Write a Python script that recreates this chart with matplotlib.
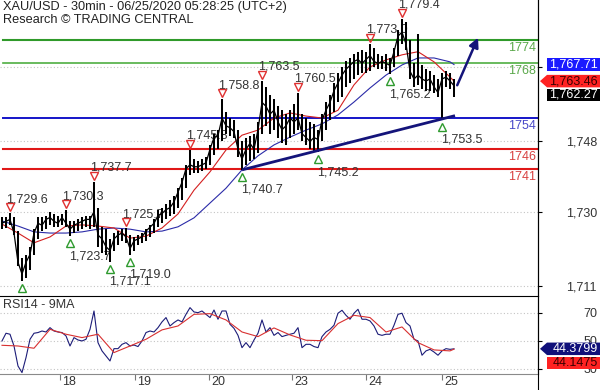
import matplotlib
matplotlib.use('Agg')
import matplotlib.pyplot as plt
import matplotlib.transforms as mtransforms
from matplotlib.patches import Polygon
from matplotlib.lines import Line2D
import numpy as np

plt.rcParams['font.family'] = ['Liberation Sans', 'DejaVu Sans']

# ---------------- data ----------------
title = "XAU/USD - 30min - 06/25/2020 05:28:25 (UTC+2)"
subtitle = "Research \u00a9 TRADING CENTRAL"

high = [
    1728.5, 1728.6, 1729.6, 1728.5, 1725.0, 1718.0, 1719.0, 1721.0, 1725.5, 1728.5,
    1728.5, 1729.0, 1730.0, 1729.5, 1729.0, 1729.5, 1730.3, 1727.5, 1727.5, 1728.0,
    1728.5, 1729.0, 1729.0, 1737.7, 1731.0, 1726.0, 1725.5, 1723.0, 1724.5, 1725.0,
    1725.5, 1725.7, 1724.0, 1723.5, 1724.0, 1724.5, 1725.5, 1726.5, 1728.0, 1730.5,
    1731.0, 1732.0, 1733.0, 1734.0, 1736.0, 1738.5, 1742.0, 1745.8, 1743.5, 1743.0,
    1743.5, 1744.0, 1747.0, 1750.0, 1751.0, 1758.8, 1755.5, 1754.0, 1753.5, 1751.0,
    1748.0, 1749.0, 1749.5, 1750.0, 1753.0, 1763.5, 1762.0, 1760.0, 1759.0, 1757.0,
    1756.0, 1755.0, 1756.0, 1757.5, 1760.5, 1755.0, 1754.0, 1753.0, 1752.5, 1751.0,
    1755.0, 1758.0, 1760.0, 1763.0, 1765.5, 1767.0, 1768.5, 1769.5, 1770.5, 1771.0,
    1771.5, 1771.0, 1773.0, 1772.0, 1770.5, 1770.0, 1770.5, 1769.5, 1772.0, 1776.5,
    1779.4, 1778.5, 1774.0, 1768.0, 1775.5, 1767.5, 1766.5, 1766.0, 1765.0, 1764.0,
    1765.5, 1766.0, 1765.5, 1764.0]
low = [
    1725.5, 1725.8, 1726.5, 1724.0, 1716.0, 1712.2, 1713.0, 1715.0, 1719.0, 1723.0,
    1725.0, 1725.5, 1726.5, 1726.0, 1726.0, 1726.5, 1726.0, 1723.7, 1724.5, 1725.0,
    1725.5, 1726.0, 1725.5, 1726.0, 1721.0, 1719.5, 1719.0, 1717.1, 1720.0, 1721.5,
    1722.5, 1722.0, 1719.0, 1720.0, 1721.5, 1722.0, 1722.5, 1723.5, 1724.5, 1726.0,
    1727.0, 1728.0, 1729.0, 1729.5, 1731.0, 1733.0, 1736.0, 1739.5, 1740.0, 1740.0,
    1740.5, 1741.0, 1742.0, 1744.5, 1746.0, 1748.0, 1750.0, 1749.5, 1749.0, 1744.0,
    1740.7, 1742.0, 1743.0, 1743.5, 1745.0, 1750.0, 1752.0, 1750.0, 1751.0, 1749.0,
    1747.5, 1747.0, 1749.0, 1750.0, 1751.0, 1748.0, 1747.0, 1746.0, 1745.5, 1745.2,
    1748.0, 1751.0, 1753.5, 1755.5, 1758.0, 1759.5, 1762.0, 1763.0, 1764.0, 1765.0,
    1765.5, 1765.5, 1766.0, 1767.0, 1766.5, 1766.5, 1766.0, 1765.2, 1767.0, 1770.0,
    1773.0, 1771.5, 1764.0, 1762.0, 1762.5, 1761.5, 1761.0, 1761.0, 1760.5, 1759.5,
    1753.5, 1762.0, 1761.5, 1759.5]
close = [
    1727.0, 1727.5, 1728.0, 1724.5, 1717.0, 1714.0, 1717.0, 1719.0, 1724.5, 1727.0,
    1726.5, 1728.0, 1728.5, 1727.5, 1727.0, 1728.5, 1727.0, 1725.5, 1726.5, 1727.0,
    1727.5, 1728.0, 1728.0, 1730.0, 1724.0, 1723.0, 1721.0, 1720.0, 1723.0, 1724.0,
    1724.5, 1723.5, 1720.5, 1722.5, 1723.0, 1723.5, 1725.0, 1726.0, 1727.0, 1729.0,
    1729.5, 1730.5, 1731.0, 1732.5, 1735.0, 1737.5, 1741.0, 1742.0, 1741.5, 1741.5,
    1742.0, 1742.5, 1746.0, 1749.0, 1749.5, 1754.0, 1752.0, 1751.5, 1750.5, 1746.0,
    1743.5, 1746.0, 1747.5, 1746.0, 1751.0, 1758.0, 1757.0, 1755.0, 1756.0, 1753.0,
    1751.0, 1752.0, 1754.0, 1753.0, 1754.0, 1750.0, 1749.0, 1748.0, 1749.0, 1748.5,
    1753.5, 1756.0, 1758.0, 1761.0, 1763.0, 1765.0, 1766.5, 1767.5, 1768.5, 1769.0,
    1768.0, 1769.0, 1770.0, 1768.5, 1768.0, 1768.5, 1768.0, 1767.5, 1771.0, 1775.0,
    1776.0, 1773.0, 1766.0, 1764.0, 1765.0, 1764.0, 1763.5, 1764.0, 1762.0, 1760.5,
    1764.0, 1764.5, 1763.5, 1762.27]
rsi = [
    50.0, 55.5, 54.8, 46.4, 32.1, 27.4, 38.1, 51.2, 55.5, 56.0,
    57.1, 56.4, 59.5, 57.1, 56.4, 56.0, 53.6, 46.4, 52.4, 50.7,
    50.0, 51.2, 58.3, 71.4, 48.8, 42.9, 39.3, 35.7, 44.5, 44.5,
    47.6, 48.8, 46.4, 47.1, 46.0, 50.0, 56.0, 57.1, 56.4, 59.5,
    63.6, 66.7, 60.7, 63.1, 65.0, 63.6, 69.0, 73.8, 70.7, 70.2,
    71.4, 69.0, 66.7, 72.1, 65.5, 71.4, 71.4, 61.9, 59.0, 54.0,
    45.2, 48.8, 45.2, 50.7, 55.5, 65.0, 56.4, 59.5, 54.0, 56.0,
    53.1, 54.0, 54.8, 55.5, 59.5, 45.2, 47.6, 47.6, 46.0, 45.2,
    53.1, 56.4, 58.3, 61.2, 69.8, 71.9, 68.3, 65.5, 69.8, 72.6,
    65.5, 65.5, 64.3, 60.7, 54.8, 54.0, 54.8, 54.8, 61.2, 69.0,
    69.8, 63.1, 60.7, 51.2, 50.0, 39.8, 42.9, 44.0, 42.1, 39.8,
    42.9, 44.5, 44.0, 44.38]

# moving averages sampled every 4th bar (plus last bar)
ma_idx = list(range(0, 113, 4)) + [113]
ma_red = [1726.8, 1724.5, 1722.0, 1723.5, 1726.3, 1726.6, 1726.3, 1725.8, 1723.2, 1723.7,
          1725.8, 1729.4, 1735.5, 1740.2, 1745.8, 1749.6, 1750.9, 1754.0, 1755.3, 1754.5,
          1754.0, 1756.0, 1762.5, 1767.1, 1768.9, 1770.2, 1771.0, 1768.4, 1764.5, 1763.46]
ma_blue = [1727.6, 1726.3, 1724.8, 1724.5, 1724.5, 1724.8, 1725.5, 1725.8, 1725.5, 1724.8,
           1725.0, 1726.1, 1728.4, 1732.2, 1736.0, 1740.7, 1744.3, 1747.1, 1749.1, 1750.9,
           1752.5, 1754.8, 1758.1, 1761.7, 1765.0, 1767.6, 1769.4, 1769.4, 1768.4, 1767.71]
rsi_ma = [46.9, 46.4, 44.8, 58.3, 54.8, 52.4, 54.8, 41.7, 46.4, 51.2,
          57.9, 60.7, 69.0, 69.5, 65.0, 56.4, 53.1, 59.3, 54.3, 50.5,
          50.2, 62.4, 68.3, 66.7, 56.4, 60.0, 48.8, 43.6, 42.9, 44.1475]

# swing highs / lows (bar index)
swing_high_idx = [2, 16, 23, 31, 47, 55, 65, 74, 92, 100]
swing_low_idx = [5, 17, 27, 32, 60, 79, 97, 110]
swing_low_labelled = [False, True, True, True, True, True, True, True]

# support / resistance levels
levels = [1774, 1768, 1754, 1746, 1741]
level_line_colors = ['#2f9a2a', '#4fae42', '#1414c8', '#e01818', '#e01818']
level_text_colors = ['#5aa84a', '#5aa84a', '#4848c8', '#d84040', '#d84040']
level_widths = [1.5, 1.2, 1.4, 1.5, 1.5]

# trend line and projection arrow (bar index, price)
trend_x = [60, 113.25]
trend_y = [1740.7, 1754.6]
arrow_x = [113.8, 119.0]
arrow_y = [1762.4, 1774.6]

# axis ticks (1,767 sits behind the value boxes in the reference)
price_ticks = [1711, 1730, 1748, 1767]
price_tick_labels = ['1,711', '1,730', '1,748', '']
rsi_ticks = [70, 50, 30]
day_ticks = [14.5, 33.25, 51.75, 72.5, 91, 110]
day_labels = ['18', '19', '20', '23', '24', '25']

last_blue_ma = 1767.71
last_red_ma = 1763.46
last_close = 1762.27
last_rsi = 44.3799
last_rsi_ma = 44.1475

# ---------------- figure ----------------
W, H = 600, 390
fig = plt.figure(figsize=(W / 100, H / 100), dpi=100)
fig.patch.set_facecolor('white')

ax = fig.add_axes([0, 1 - 296 / H, 538 / W, 296 / H])
axr = fig.add_axes([0, 1 - 374 / H, 538 / W, 78 / H])

idx = np.arange(len(close))
for a in (ax, axr):
    a.set_xlim(-0.5, 134)
    a.set_facecolor('white')
ax.set_ylim(1708.36, 1784.26)
axr.set_ylim(26.4, 82.1)

grid_kw = dict(color='#c4c4c4', linestyle=(0, (1, 2)), linewidth=0.8)
ax.set_yticks(price_ticks)
ax.set_yticklabels(price_tick_labels)
axr.set_yticks(rsi_ticks)
axr.set_yticklabels([str(t) for t in rsi_ticks])
for a in (ax, axr):
    a.yaxis.tick_right()
    a.grid(axis='y', **grid_kw)
    a.set_axisbelow(True)
    a.tick_params(axis='y', direction='out', length=3, width=0.8, color='black',
                  labelsize=9, labelcolor='#333333', pad=39.5)
    for lab in a.get_yticklabels():
        lab.set_horizontalalignment('right')
    for s in ('top', 'left', 'bottom'):
        a.spines[s].set_visible(False)
    a.spines['right'].set_color('black')
    a.spines['right'].set_linewidth(0.8)
ax.set_xticks([])
axr.spines['top'].set_visible(True)
axr.spines['top'].set_color('black')
axr.spines['top'].set_linewidth(0.8)
axr.spines['bottom'].set_visible(True)
axr.spines['bottom'].set_color('#8a8a8a')
axr.spines['bottom'].set_linewidth(0.8)
axr.set_xticks(day_ticks)
axr.set_xticklabels([''] * len(day_ticks))
axr.tick_params(axis='x', direction='out', length=4, width=0.8, color='#777777')
for t, lab in zip(day_ticks, day_labels):
    axr.annotate(lab, xy=(t, 0), xycoords=('data', 'axes fraction'),
                 xytext=(2, -8), textcoords='offset pixels', ha='left', va='center',
                 fontsize=9, color='#333333', annotation_clip=False)

# levels
for lv, lc, tc, lw in zip(levels, level_line_colors, level_text_colors, level_widths):
    ax.axhline(lv, xmin=0.006, xmax=1, color=lc, lw=lw, zorder=2)
    ax.annotate(str(lv), xy=(1, lv), xycoords=('axes fraction', 'data'),
                xytext=(-2, -8), textcoords='offset pixels', ha='right', va='center',
                fontsize=9, color=tc, zorder=6)

# moving averages
ax.plot(ma_idx, ma_blue, color='#2b2ba8', lw=0.8, zorder=3)
ax.plot(ma_idx, ma_red, color='#d42020', lw=0.8, zorder=3)

# price bars
ax.vlines(idx, low, high, color='black', lw=1.45, zorder=4)
ax.plot(idx, close, color='black', lw=0.9, zorder=4)

# trend line and arrow
ax.plot(trend_x, trend_y, color='#14147a', lw=2.0, zorder=5, solid_capstyle='butt')
ax.annotate('', xy=(arrow_x[1], arrow_y[1]), xytext=(arrow_x[0], arrow_y[0]),
            arrowprops=dict(arrowstyle='-|>', color='#14147a', lw=1.8,
                            mutation_scale=14, shrinkA=0, shrinkB=0), zorder=5)

# swing markers
up_tr = mtransforms.offset_copy(ax.transData, fig=fig, x=0, y=6, units='dots')
dn_tr = mtransforms.offset_copy(ax.transData, fig=fig, x=0, y=-7, units='dots')
for i in swing_high_idx:
    ax.plot([i], [high[i]], marker='v', ms=6, mfc='none', mec='#e03030', mew=1.0,
            transform=up_tr, zorder=6)
    ax.annotate('{:,.1f}'.format(high[i]), xy=(i, high[i]), xytext=(-4, 14),
                textcoords='offset pixels', ha='left', va='center', fontsize=9,
                color='#333333', zorder=3)
for i, lab in zip(swing_low_idx, swing_low_labelled):
    ax.plot([i], [low[i]], marker='^', ms=6, mfc='none', mec='#2e9a2e', mew=1.0,
            transform=dn_tr, zorder=6)
    if lab:
        ax.annotate('{:,.1f}'.format(low[i]), xy=(i, low[i]), xytext=(-1, -20),
                    textcoords='offset pixels', ha='left', va='center', fontsize=9,
                    color='#333333', zorder=3)

# RSI panel
axr.plot(idx, rsi, color='#1c1c78', lw=0.8, zorder=3)
axr.plot(ma_idx, rsi_ma, color='#d83030', lw=0.8, zorder=3)

# texts
fig.text(3 / W, 1 - 7 / H, title, fontsize=9.2, color='#222222', va='center', ha='left')
fig.text(3 / W, 1 - 20 / H, subtitle, fontsize=9.2, color='#222222', va='center', ha='left')
fig.text(3 / W, 1 - 305 / H, 'RSI14 - 9MA', fontsize=9, color='#333333', va='center', ha='left')

# full height right border
fig.add_artist(Line2D([538 / W, 538 / W], [0, 1], transform=fig.transFigure,
                      color='black', lw=0.8))

# value boxes on the right
ident = mtransforms.IdentityTransform()
x_axis_right = 538


def value_box(a, value, text, face, tcolor, arrow, dy=0):
    y = a.transData.transform((0, value))[1] + dy
    h = 12.5
    if arrow:
        pts = [(x_axis_right + 2, y), (x_axis_right + 9, y + h / 2), (W, y + h / 2),
               (W, y - h / 2), (x_axis_right + 9, y - h / 2)]
    else:
        pts = [(x_axis_right + 9, y + h / 2), (W, y + h / 2), (W, y - h / 2),
               (x_axis_right + 9, y - h / 2)]
    fig.add_artist(Polygon(pts, closed=True, transform=ident, facecolor=face,
                           edgecolor='none', zorder=10))
    fig.text(598, y, text, transform=ident, ha='right', va='center', fontsize=9,
             color=tcolor, zorder=11)


value_box(ax, last_blue_ma, '{:,.2f}'.format(last_blue_ma), '#1a1aff', 'white', False)
value_box(ax, last_red_ma, '{:,.2f}'.format(last_red_ma), '#ff2222', '#3a0000', True)
value_box(ax, last_close, '{:,.2f}'.format(last_close), 'black', 'white', False, dy=-9)
value_box(axr, last_rsi, '{:.4f}'.format(last_rsi), '#10107a', 'white', True)
value_box(axr, last_rsi_ma, '{:.4f}'.format(last_rsi_ma), '#ff2222', '#3a0000', False, dy=-14)

fig.savefig('out.png', dpi=100, facecolor='white')
